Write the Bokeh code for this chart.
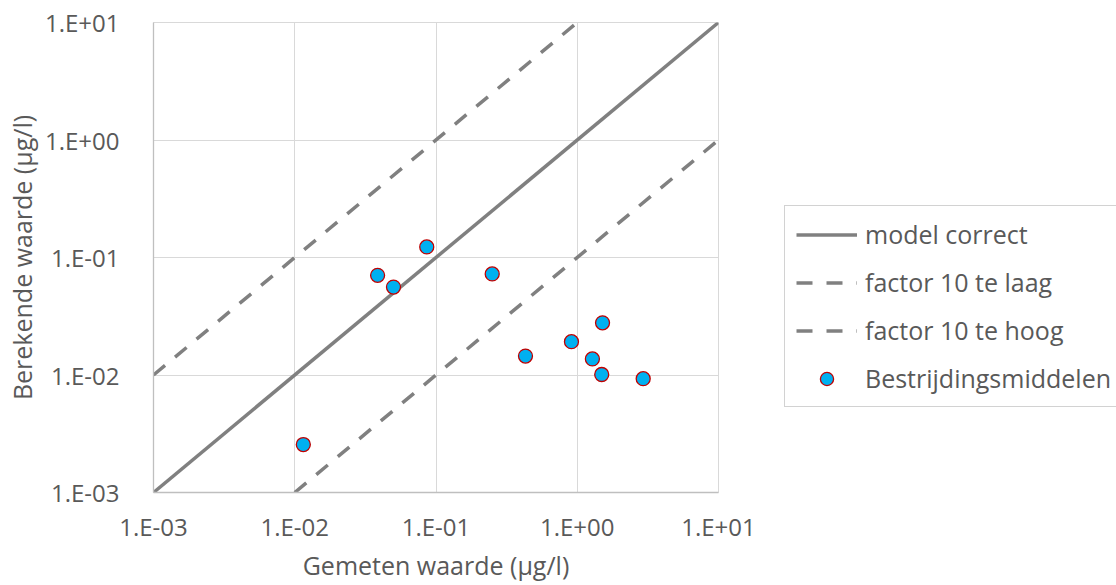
from bokeh.plotting import figure
from bokeh.models import Range1d, FixedTicker, Legend, LegendItem
from bokeh.layouts import row
from bokeh.embed import file_html
from bokeh.resources import INLINE

# ---- data ----
gemeten = [0.0115, 0.0386, 0.0500, 0.0860, 0.250, 0.430, 0.910, 1.28, 1.51, 1.49, 2.93]
berekend = [0.00256, 0.0705, 0.0560, 0.123, 0.0725, 0.0145, 0.0192, 0.0137, 0.0278, 0.0101, 0.0093]

tick_values = [1e-3, 1e-2, 1e-1, 1e0, 1e1]
tick_labels = ["1.E-03", "1.E-02", "1.E-01", "1.E+00", "1.E+01"]

ref_x = [1e-3, 1e1]
factor_correct = 1.0
factor_laag = 10.0
factor_hoog = 0.1

series_names = ["model correct", "factor 10 te laag", "factor 10 te hoog", "Bestrijdingsmiddelen"]

# ---- style ----
FONT = "Open Sans"
TXT = "#595959"
LINE = "#808080"
LW = 3.5
DASH = "15 13"
LEG_DASH = "16 14"
PT = dict(marker="circle", size=14, fill_color="#00b0f0", line_color="#c00000", line_width=1.3)

p = figure(width=760, height=585, x_axis_type="log", y_axis_type="log",
           x_range=Range1d(1e-3, 1e1), y_range=Range1d(1e-3, 1e1),
           output_backend="svg", toolbar_location=None,
           min_border_left=153, min_border_right=42,
           min_border_top=22, min_border_bottom=93)
p.background_fill_color = "white"
p.border_fill_color = "white"
p.outline_line_color = "#d9d9d9"


def clip_line(factor):
    lo, hi = ref_x
    x0 = max(lo, lo / factor)
    x1 = min(hi, hi / factor)
    return [x0, x1], [x0 * factor, x1 * factor]


xc, yc = clip_line(factor_correct)
xl, yl = clip_line(factor_laag)
xh, yh = clip_line(factor_hoog)

p.line(xc, yc, line_color=LINE, line_width=LW)
p.line(xl, yl, line_color=LINE, line_width=LW, line_dash=DASH)
p.line(xh, yh, line_color=LINE, line_width=LW, line_dash=DASH)
p.scatter(gemeten, berekend, **PT)

for ax in (p.xaxis[0], p.yaxis[0]):
    ax.ticker = FixedTicker(ticks=tick_values, minor_ticks=[])
    ax.major_label_overrides = {v: l for v, l in zip(tick_values, tick_labels)}
    ax.major_tick_line_color = None
    ax.minor_tick_line_color = None
    ax.axis_line_color = "#bfbfbf"
    ax.axis_line_width = 1.3
    ax.major_label_text_font = FONT
    ax.major_label_text_font_size = "24px"
    ax.major_label_text_color = TXT
    ax.axis_label_text_font = FONT
    ax.axis_label_text_font_size = "25px"
    ax.axis_label_text_font_style = "normal"
    ax.axis_label_text_color = TXT

p.xaxis.axis_label = "Gemeten waarde (µg/l)"
p.yaxis.axis_label = "Berekende waarde (µg/l)"
p.xaxis.major_label_standoff = 11
p.xaxis.axis_label_standoff = 2
p.yaxis.major_label_standoff = 28
p.yaxis.axis_label_standoff = 3

p.grid.grid_line_color = "#d9d9d9"
p.grid.grid_line_width = 1

# ---- legend panel (same series, drawn outside its visible range) ----
p2 = figure(width=356, height=585, output_backend="svg", toolbar_location=None,
            x_range=Range1d(100, 101), y_range=Range1d(100, 101),
            min_border_left=0, min_border_right=0, min_border_top=0, min_border_bottom=0)
p2.axis.visible = False
p2.grid.visible = False
p2.outline_line_color = None
p2.background_fill_color = "white"
p2.border_fill_color = "white"

l_corr = p2.line(xc, yc, line_color=LINE, line_width=LW)
l_laag = p2.line(xl, yl, line_color=LINE, line_width=LW, line_dash=LEG_DASH)
l_hoog = p2.line(xh, yh, line_color=LINE, line_width=LW, line_dash=LEG_DASH)
l_pts = p2.scatter(gemeten, berekend, **PT)

legend = Legend(items=[
    LegendItem(label=series_names[0], renderers=[l_corr]),
    LegendItem(label=series_names[1], renderers=[l_laag]),
    LegendItem(label=series_names[2], renderers=[l_hoog]),
    LegendItem(label=series_names[3], renderers=[l_pts]),
], location=(24, 85))
legend.margin = 0
legend.padding = 11
legend.spacing = 14
legend.glyph_width = 61
legend.glyph_height = 33
legend.label_standoff = 8
legend.label_text_font = FONT
legend.label_text_font_size = "25px"
legend.label_text_color = TXT
legend.border_line_color = "#a6a6a6"
legend.border_line_width = 1
legend.background_fill_color = "white"
legend.background_fill_alpha = 1.0
p2.add_layout(legend, "center")

layout = row(p, p2)
open("out.html", "w").write(file_html(layout, INLINE))
